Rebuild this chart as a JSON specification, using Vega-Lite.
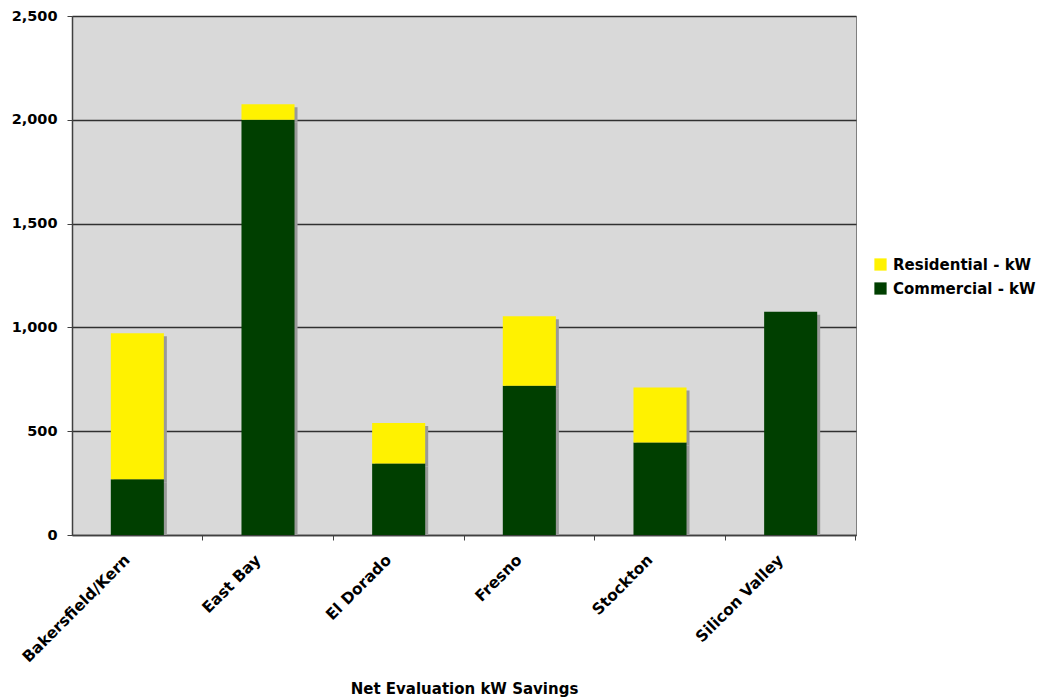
{
  "$schema": "https://vega.github.io/schema/vega-lite/v6.json",
  "width": 784,
  "height": 519,
  "autosize": "none",
  "padding": {"left": 72, "top": 16, "right": 191, "bottom": 163},
  "background": "white",
  "config": {
    "font": "DejaVu Sans",
    "view": {"fill": "#D9D9D9", "stroke": "#808080", "strokeWidth": 1}
  },
  "data": {
    "values": [
      {"region": "Bakersfield/Kern", "type": "Commercial - kW", "kw": 268},
      {"region": "Bakersfield/Kern", "type": "Residential - kW", "kw": 704},
      {"region": "East Bay", "type": "Commercial - kW", "kw": 2000},
      {"region": "East Bay", "type": "Residential - kW", "kw": 75},
      {"region": "El Dorado", "type": "Commercial - kW", "kw": 345},
      {"region": "El Dorado", "type": "Residential - kW", "kw": 194},
      {"region": "Fresno", "type": "Commercial - kW", "kw": 719},
      {"region": "Fresno", "type": "Residential - kW", "kw": 335},
      {"region": "Stockton", "type": "Commercial - kW", "kw": 446},
      {"region": "Stockton", "type": "Residential - kW", "kw": 265},
      {"region": "Silicon Valley", "type": "Commercial - kW", "kw": 1075},
      {"region": "Silicon Valley", "type": "Residential - kW", "kw": 0}
    ]
  },
  "encoding": {
    "x": {
      "field": "region",
      "type": "nominal",
      "sort": ["Bakersfield/Kern", "East Bay", "El Dorado", "Fresno", "Stockton", "Silicon Valley"],
      "scale": {"paddingInner": 0, "paddingOuter": 0},
      "axis": {
        "title": "Net Evaluation kW Savings",
        "titleFont": "DejaVu Sans",
        "titleFontSize": 15,
        "titleFontWeight": "bold",
        "titleColor": "#000000",
        "titleY": 158,
        "titleBaseline": "alphabetic",
        "bandPosition": 1,
        "labelAngle": -45,
        "labelAlign": "right",
        "labelBaseline": "middle",
        "labelFont": "DejaVu Sans",
        "labelFontSize": 15.5,
        "labelFontWeight": "bold",
        "labelColor": "#000000",
        "labelPadding": 17,
        "labelOffset": -10,
        "labelFlush": false,
        "labelOverlap": false,
        "ticks": true,
        "tickSize": 5,
        "tickColor": "#404040",
        "domainColor": "#404040",
        "domainWidth": 1.5,
        "grid": false
      }
    },
    "y": {
      "field": "kw",
      "type": "quantitative",
      "stack": "zero",
      "scale": {"domain": [0, 2500], "nice": false},
      "axis": {
        "title": null,
        "values": [0, 500, 1000, 1500, 2000, 2500],
        "format": ",.0f",
        "labelFont": "DejaVu Sans",
        "labelFontSize": 14.5,
        "labelFontWeight": "bold",
        "labelColor": "#000000",
        "labelPadding": 10,
        "tickSize": 5,
        "tickColor": "#404040",
        "domainColor": "#404040",
        "domainWidth": 1.5,
        "grid": true,
        "gridColor": "#303030",
        "gridWidth": 1.5
      }
    },
    "order": {"field": "type", "sort": "ascending"}
  },
  "layer": [
    {
      "mark": {"type": "bar", "color": "#999999", "xOffset": 3, "yOffset": 3, "clip": true, "width": {"band": 0.406}},
      "encoding": {
        "detail": {"field": "type", "type": "nominal"}
      }
    },
    {
      "mark": {"type": "bar", "width": {"band": 0.406}},
      "encoding": {
        "color": {
          "field": "type",
          "type": "nominal",
          "scale": {
            "domain": ["Residential - kW", "Commercial - kW"],
            "range": ["#FFF200", "#003F00"]
          },
          "legend": {
            "title": null,
            "orient": "none",
            "legendX": 801,
            "legendY": 241,
            "symbolType": "square",
            "symbolSize": 150,
            "symbolStrokeWidth": 0,
            "labelFont": "DejaVu Sans",
            "labelFontSize": 15,
            "labelFontWeight": "bold",
            "labelColor": "#000000",
            "labelOffset": 5,
            "rowPadding": 8
          }
        }
      }
    }
  ]
}
